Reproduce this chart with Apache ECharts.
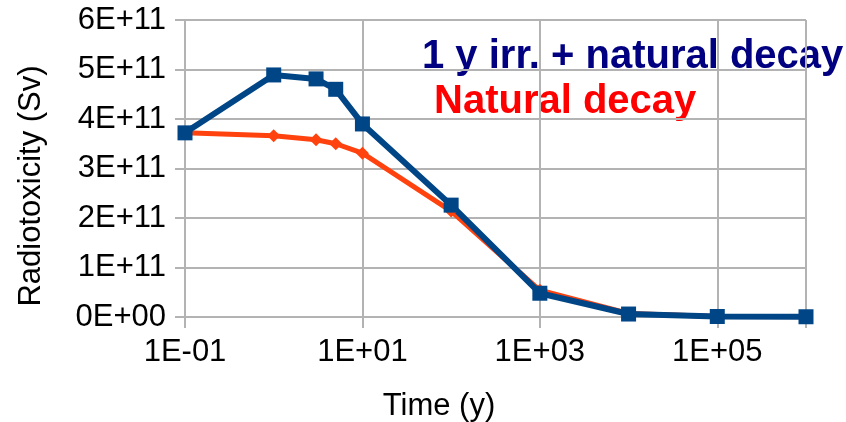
<!DOCTYPE html>
<html>
<head>
  <meta charset="UTF-8">
  <title>Radiotoxicity</title>
  <script src="https://cdn.jsdelivr.net/npm/echarts@6/dist/echarts.min.js"></script>
  <style>
    html, body { margin: 0; padding: 0; background: #fff; }
    #main { width: 846px; height: 422px; }
  </style>
</head>
<body>
  <div id="main"></div>
  <script>
    // time points (years)
    var times = [0.1, 1, 3, 5, 10, 100, 1000, 10000, 100000, 1000000];
    // radiotoxicity (Sv)
    var irrDecay = [3.72e11, 4.89e11, 4.81e11, 4.6e11, 3.9e11, 2.26e11, 0.48e11, 0.06e11, 0.01e11, 0.005e11];
    var naturalDecay = [3.72e11, 3.66e11, 3.58e11, 3.5e11, 3.31e11, 2.14e11, 0.54e11, 0.07e11, 0.01e11, 0.005e11];
    var yTicks = ['0E+00', '1E+11', '2E+11', '3E+11', '4E+11', '5E+11', '6E+11'];

    function pairs(xs, ys) {
      return xs.map(function (x, i) { return [x, ys[i]]; });
    }

    function expLabel(v) {
      var e = Math.round(Math.log10(v));
      if (e >= 6) return '';
      var s = e < 0 ? '-' : '+';
      var a = Math.abs(e);
      return '1E' + s + (a < 10 ? '0' : '') + a;
    }

    var font = 'Liberation Sans, Arial, sans-serif';
    var gridColor = '#b3b3b3';

    var myChart = echarts.init(document.getElementById('main'));
    var option = {
      animation: false,
      grid: { left: 185, right: 40, top: 20, bottom: 105 },
      xAxis: {
        type: 'log',
        logBase: 10,
        min: 0.1,
        max: 1000000,
        interval: 2,
        axisLine: { lineStyle: { color: gridColor, width: 2 } },
        axisTick: { show: true, length: 11, lineStyle: { color: gridColor, width: 2 } },
        minorTick: { show: false },
        splitLine: { show: true, lineStyle: { color: gridColor, width: 2 } },
        axisLabel: {
          color: '#000', fontFamily: font, fontSize: 31, margin: 20,
          formatter: expLabel
        }
      },
      yAxis: {
        type: 'value',
        min: 0,
        max: 6e11,
        interval: 1e11,
        axisLine: { show: true, lineStyle: { color: gridColor, width: 2 } },
        axisTick: { show: true, length: 10, lineStyle: { color: gridColor, width: 2 } },
        splitLine: { show: true, lineStyle: { color: gridColor, width: 2 } },
        axisLabel: {
          color: '#000', fontFamily: font, fontSize: 31, margin: 19,
          formatter: function (v) { return yTicks[Math.round(v / 1e11)]; }
        }
      },
      series: [
        {
          name: 'Natural decay',
          type: 'line',
          data: pairs(times, naturalDecay),
          symbol: 'diamond',
          symbolSize: 13,
          lineStyle: { color: '#ff420e', width: 5 },
          itemStyle: { color: '#ff420e' }
        },
        {
          name: '1 y irr. + natural decay',
          type: 'line',
          data: pairs(times, irrDecay),
          symbol: 'rect',
          symbolSize: 15,
          lineStyle: { color: '#004586', width: 6 },
          itemStyle: { color: '#004586' }
        }
      ],
      graphic: [
        {
          type: 'text', left: 422, top: 37,
          style: { text: '1 y irr. + natural decay', fill: '#000080', font: 'bold 40px ' + font }
        },
        {
          type: 'text', left: 434, top: 82,
          style: { text: 'Natural decay', fill: '#ff0000', font: 'bold 40px ' + font }
        },
        {
          type: 'text', x: 439, y: 406,
          style: { text: 'Time (y)', fill: '#000', font: '31px ' + font, textAlign: 'center', textVerticalAlign: 'middle' }
        },
        {
          type: 'text', x: 31, y: 186, rotation: Math.PI / 2,
          style: { text: 'Radiotoxicity (Sv)', fill: '#000', font: '31px ' + font, textAlign: 'center', textVerticalAlign: 'middle' }
        }
      ]
    };
    myChart.setOption(option);
  </script>
</body>
</html>
